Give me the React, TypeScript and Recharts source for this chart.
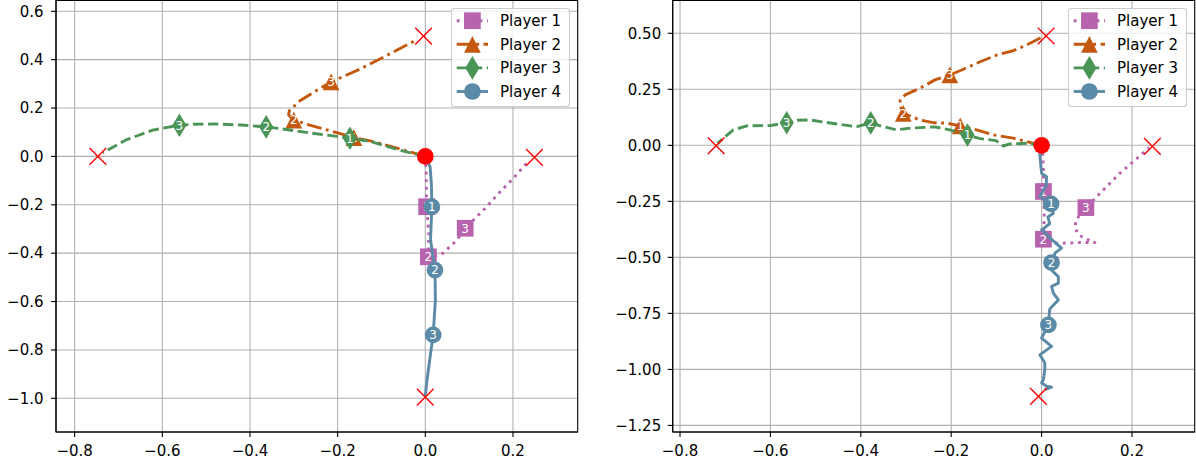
import React from 'react';
import { ComposedChart, Line, Scatter, XAxis, YAxis, CartesianGrid, Legend, ReferenceArea } from 'recharts';

// ---------- tick labels ----------
const xTicks = [-0.8, -0.6, -0.4, -0.2, 0, 0.2];
const yTicksLeft = [-1.0, -0.8, -0.6, -0.4, -0.2, 0, 0.2, 0.4, 0.6];
const yTicksRight = [-1.25, -1.0, -0.75, -0.5, -0.25, 0, 0.25, 0.5];

// ---------- series meta ----------
const playerNames = ['Player 1', 'Player 2', 'Player 3', 'Player 4'];
const playerColors = ['#b863ae', '#c4580f', '#4a9456', '#5a8aa6'];
const playerMarkers = ['square', 'triangle', 'diamond', 'circle'];
const playerDashes = ['2.9 4.7', '15 4.5 2.9 4.5', '10.5 4.5', undefined];

// ---------- left panel ----------
const leftP1Path = [
  { x: 0, y: 0 }, { x: 0.002, y: -0.07 }, { x: 0.003, y: -0.208 }, { x: 0.008, y: -0.318 },
  { x: 0.007, y: -0.415 }, { x: 0.037, y: -0.405 }, { x: 0.072, y: -0.346 }, { x: 0.091, y: -0.297 },
  { x: 0.14, y: -0.208 }, { x: 0.167, y: -0.153 }, { x: 0.2, y: -0.092 }, { x: 0.235, y: -0.02 },
];
const leftP1Marks = [
  { x: 0.003, y: -0.208, n: '1' }, { x: 0.007, y: -0.415, n: '2' }, { x: 0.091, y: -0.297, n: '3' },
];
const leftP2Path = [
  { x: 0, y: 0 }, { x: -0.06, y: 0.032 }, { x: -0.12, y: 0.062 }, { x: -0.163, y: 0.078 },
  { x: -0.22, y: 0.107 }, { x: -0.27, y: 0.133 }, { x: -0.3, y: 0.15 }, { x: -0.312, y: 0.172 },
  { x: -0.31, y: 0.19 }, { x: -0.303, y: 0.198 }, { x: -0.293, y: 0.222 }, { x: -0.255, y: 0.265 },
  { x: -0.215, y: 0.308 }, { x: -0.15, y: 0.36 }, { x: -0.08, y: 0.425 }, { x: -0.024, y: 0.478 },
];
const leftP2Marks = [
  { x: -0.163, y: 0.078, n: '1' }, { x: -0.3, y: 0.15, n: '2' }, { x: -0.215, y: 0.308, n: '3' },
];
const leftP3Path = [
  { x: 0, y: 0 }, { x: -0.058, y: 0.026 }, { x: -0.126, y: 0.062 }, { x: -0.172, y: 0.075 },
  { x: -0.202, y: 0.083 }, { x: -0.263, y: 0.097 }, { x: -0.332, y: 0.115 }, { x: -0.363, y: 0.122 },
  { x: -0.42, y: 0.13 }, { x: -0.48, y: 0.134 }, { x: -0.53, y: 0.133 }, { x: -0.561, y: 0.129 },
  { x: -0.622, y: 0.109 }, { x: -0.683, y: 0.068 }, { x: -0.736, y: 0.015 },
];
const leftP3Marks = [
  { x: -0.172, y: 0.075, n: '1' }, { x: -0.363, y: 0.122, n: '2' }, { x: -0.561, y: 0.129, n: '3' },
];
const leftP4Path = [
  { x: 0, y: 0 }, { x: 0.011, y: -0.043 }, { x: 0.014, y: -0.12 }, { x: 0.015, y: -0.208 },
  { x: 0.012, y: -0.346 }, { x: 0.022, y: -0.47 }, { x: 0.023, y: -0.593 }, { x: 0.018, y: -0.738 },
  { x: 0.011, y: -0.828 }, { x: 0.003, y: -0.938 }, { x: 0, y: -0.99 },
];
const leftP4Marks = [
  { x: 0.015, y: -0.208, n: '1' }, { x: 0.022, y: -0.47, n: '2' }, { x: 0.018, y: -0.738, n: '3' },
];
const leftGoals = [
  { x: -0.004, y: 0.497 }, { x: -0.747, y: 0.0 }, { x: 0.249, y: -0.004 }, { x: 0, y: -0.995 },
];

// ---------- right panel ----------
const rightP1Path = [
  { x: 0, y: 0 }, { x: 0.003, y: -0.05 }, { x: 0.004, y: -0.12 }, { x: 0.004, y: -0.206 },
  { x: 0.006, y: -0.3 }, { x: 0.004, y: -0.419 }, { x: 0.033, y: -0.437 }, { x: 0.06, y: -0.436 },
  { x: 0.085, y: -0.434 }, { x: 0.118, y: -0.434 }, { x: 0.1, y: -0.419 }, { x: 0.083, y: -0.401 },
  { x: 0.074, y: -0.371 }, { x: 0.076, y: -0.333 }, { x: 0.098, y: -0.278 }, { x: 0.122, y: -0.229 },
  { x: 0.144, y: -0.184 }, { x: 0.173, y: -0.125 }, { x: 0.203, y: -0.073 }, { x: 0.238, y: -0.01 },
];
const rightP1Marks = [
  { x: 0.004, y: -0.206, n: '1' }, { x: 0.004, y: -0.419, n: '2' }, { x: 0.098, y: -0.278, n: '3' },
];
const rightP2Path = [
  { x: 0, y: 0 }, { x: -0.033, y: 0.017 }, { x: -0.063, y: 0.032 }, { x: -0.107, y: 0.047 },
  { x: -0.144, y: 0.069 }, { x: -0.18, y: 0.087 }, { x: -0.21, y: 0.099 }, { x: -0.24, y: 0.101 },
  { x: -0.269, y: 0.113 }, { x: -0.306, y: 0.143 }, { x: -0.313, y: 0.175 }, { x: -0.313, y: 0.202 },
  { x: -0.302, y: 0.225 }, { x: -0.269, y: 0.255 }, { x: -0.236, y: 0.292 }, { x: -0.203, y: 0.314 },
  { x: -0.177, y: 0.336 }, { x: -0.136, y: 0.373 }, { x: -0.099, y: 0.403 }, { x: -0.063, y: 0.422 },
  { x: -0.033, y: 0.448 }, { x: -0.004, y: 0.478 }, { x: 0.008, y: 0.486 },
];
const rightP2Marks = [
  { x: -0.18, y: 0.087, n: '1' }, { x: -0.306, y: 0.143, n: '2' }, { x: -0.203, y: 0.314, n: '3' },
];
const rightP3Path = [
  { x: 0, y: 0 }, { x: -0.033, y: 0.009 }, { x: -0.07, y: 0.006 }, { x: -0.085, y: -0.003 },
  { x: -0.101, y: 0.021 }, { x: -0.136, y: 0.03 }, { x: -0.164, y: 0.046 }, { x: -0.203, y: 0.069 },
  { x: -0.236, y: 0.082 }, { x: -0.29, y: 0.077 }, { x: -0.321, y: 0.069 }, { x: -0.354, y: 0.085 },
  { x: -0.378, y: 0.1 }, { x: -0.409, y: 0.083 }, { x: -0.453, y: 0.095 }, { x: -0.512, y: 0.113 },
  { x: -0.54, y: 0.112 }, { x: -0.564, y: 0.101 }, { x: -0.6, y: 0.088 }, { x: -0.652, y: 0.087 },
  { x: -0.682, y: 0.069 }, { x: -0.704, y: 0.032 }, { x: -0.717, y: 0.009 },
];
const rightP3Marks = [
  { x: -0.164, y: 0.046, n: '1' }, { x: -0.378, y: 0.1, n: '2' }, { x: -0.564, y: 0.101, n: '3' },
];
const rightP4Path = [
  { x: 0, y: 0 }, { x: -0.004, y: -0.043 }, { x: 0, y: -0.125 }, { x: 0.011, y: -0.14 },
  { x: 0.01, y: -0.18 }, { x: -0.004, y: -0.229 }, { x: 0.021, y: -0.261 }, { x: 0.026, y: -0.303 },
  { x: 0.014, y: -0.32 }, { x: 0.018, y: -0.35 }, { x: 0, y: -0.377 }, { x: 0.022, y: -0.42 },
  { x: 0.044, y: -0.459 }, { x: 0.03, y: -0.48 }, { x: 0.022, y: -0.523 }, { x: 0.018, y: -0.55 },
  { x: 0.037, y: -0.586 }, { x: 0.037, y: -0.615 }, { x: 0.022, y: -0.63 }, { x: 0.026, y: -0.66 },
  { x: 0.037, y: -0.69 }, { x: 0.018, y: -0.73 }, { x: 0.015, y: -0.801 }, { x: 0, y: -0.86 },
  { x: 0.022, y: -0.897 }, { x: -0.004, y: -0.935 }, { x: 0.007, y: -0.97 }, { x: 0.007, y: -1.0 },
  { x: 0.004, y: -1.046 }, { x: 0, y: -1.06 }, { x: 0.011, y: -1.075 }, { x: 0.022, y: -1.079 },
  { x: 0.007, y: -1.09 },
];
const rightP4Marks = [
  { x: 0.021, y: -0.261, n: '1' }, { x: 0.022, y: -0.523, n: '2' }, { x: 0.015, y: -0.801, n: '3' },
];
const rightGoals = [
  { x: 0.01, y: 0.488 }, { x: -0.72, y: -0.002 }, { x: 0.245, y: -0.005 }, { x: -0.007, y: -1.12 },
];

const origin = [{ x: 0, y: 0 }];

const FONT = 'DejaVu Sans';
const FS = 15;
const MS = 16.7;
const LW = 2.9;

const fmt = (d: number) => (v: number) => {
  const s = Math.abs(v).toFixed(d);
  return v < -1e-9 ? '\u2212' + s : s;
};

function markerEl(kind: string, cx: number, cy: number, color: string) {
  const h = MS / 2;
  if (kind === 'square') return <rect x={cx - h} y={cy - h} width={MS} height={MS} fill={color} />;
  if (kind === 'triangle')
    return <polygon points={`${cx},${cy - h} ${cx - h},${cy + h} ${cx + h},${cy + h}`} fill={color} />;
  if (kind === 'diamond') {
    const hw = MS * 0.4243, hh = MS * 0.7071;
    return <polygon points={`${cx},${cy - hh} ${cx + hw},${cy} ${cx},${cy + hh} ${cx - hw},${cy}`} fill={color} />;
  }
  return <circle cx={cx} cy={cy} r={h} fill={color} />;
}

const makeShape = (i: number) => (props: any) => {
  const { cx, cy, payload } = props;
  return (
    <g>
      {markerEl(playerMarkers[i], cx, cy, playerColors[i])}
      <text x={cx} y={cy} dy="0.36em" textAnchor="middle" fill="#ffffff" fontSize={12} fontFamily={FONT}>
        {payload.n}
      </text>
    </g>
  );
};

const crossShape = (props: any) => {
  const { cx, cy } = props;
  const h = MS / 2;
  return (
    <g stroke="#ff0000" strokeWidth={1.4}>
      <line x1={cx - h} y1={cy - h} x2={cx + h} y2={cy + h} />
      <line x1={cx - h} y1={cy + h} x2={cx + h} y2={cy - h} />
    </g>
  );
};

const dotShape = (props: any) => <circle cx={props.cx} cy={props.cy} r={MS / 2} fill="#ff0000" />;

function LegendBox() {
  return (
    <svg width={120} height={100} style={{ display: 'block', overflow: 'visible' }}>
      <rect x={0.5} y={0.5} width={118} height={98} rx={3} fill="rgba(255,255,255,0.8)" stroke="#cccccc" strokeWidth={1.1} />
      {playerNames.map((name, i) => {
        const cy = 12.7 + i * 23.6;
        return (
          <g key={name}>
            <line x1={5.7} x2={37} y1={cy} y2={cy} stroke={playerColors[i]} strokeWidth={LW} strokeDasharray={playerDashes[i]} />
            {markerEl(playerMarkers[i], 21.4, cy, playerColors[i])}
            <text x={49} y={cy} dy="0.36em" fontSize={FS} fontFamily={FONT} fill="#000">
              {name}
            </text>
          </g>
        );
      })}
    </svg>
  );
}

type Panel = {
  width: number;
  left: number;
  right: number;
  xDomain: [number, number];
  yDomain: [number, number];
  yTicks: number[];
  yFmt: (v: number) => string;
  yMargin: number;
  paths: { x: number; y: number }[][];
  marks: { x: number; y: number; n: string }[][];
  goals: { x: number; y: number }[];
  legendLeft: number;
};

function PanelChart({ p }: { p: Panel }) {
  const tickStyle = { fill: '#000', fontSize: FS, fontFamily: FONT };
  return (
    <ComposedChart width={p.width} height={465} margin={{ top: 0.5, right: p.right, bottom: 0, left: 0 }}>
      <CartesianGrid stroke="#b0b0b0" strokeWidth={1.1} horizontalValues={p.yTicks} verticalValues={xTicks} />
      <XAxis
        type="number" dataKey="x" domain={p.xDomain} ticks={xTicks} allowDataOverflow interval={0}
        tickFormatter={fmt(1)} height={33} tickSize={5} tickMargin={8.5} stroke="#000" strokeWidth={1.1}
        tick={tickStyle}
      />
      <YAxis
        type="number" dataKey="y" domain={p.yDomain} ticks={p.yTicks} allowDataOverflow interval={0}
        tickFormatter={p.yFmt} width={p.left} tickSize={5} tickMargin={p.yMargin} stroke="#000" strokeWidth={1.1}
        tick={tickStyle}
      />
      {p.paths.map((path, i) => [
        <Line
          key={'l' + i} data={path} dataKey="y" type="linear" stroke={playerColors[i]} strokeWidth={LW}
          strokeDasharray={playerDashes[i]} strokeLinejoin="round" dot={false} activeDot={false}
          isAnimationActive={false} legendType="none" zIndex={401 + i * 2}
        />,
        <Scatter
          key={'s' + i} data={p.marks[i]} shape={makeShape(i)} isAnimationActive={false} legendType="none"
          zIndex={402 + i * 2}
        />,
      ])}
      <Scatter data={p.goals} shape={crossShape} isAnimationActive={false} legendType="none" zIndex={450} />
      <Scatter data={origin} shape={dotShape} isAnimationActive={false} legendType="none" zIndex={451} />
      <ReferenceArea
        x1={p.xDomain[0]} x2={p.xDomain[1]} y1={p.yDomain[0]} y2={p.yDomain[1]}
        fill="none" fillOpacity={0} stroke="#000" strokeWidth={1.1} ifOverflow="visible" zIndex={460}
      />
      <Legend
        layout="vertical" align="center" verticalAlign="middle" content={() => <LegendBox />}
        wrapperStyle={{ top: 8, left: p.legendLeft, width: 120, height: 100, margin: 0, padding: 0 }}
      />
    </ComposedChart>
  );
}

const leftPanel: Panel = {
  width: 600,
  left: 56,
  right: 22.3,
  xDomain: [-0.8426, 0.3477],
  yDomain: [-1.1393, 0.6446],
  yTicks: yTicksLeft,
  yFmt: fmt(1),
  yMargin: 7.5,
  paths: [leftP1Path, leftP2Path, leftP3Path, leftP4Path],
  marks: [leftP1Marks, leftP2Marks, leftP3Marks, leftP4Marks],
  goals: leftGoals,
  legendLeft: 450.6,
};

const rightPanel: Panel = {
  width: 596,
  left: 72.7,
  right: 1.3,
  xDomain: [-0.8162, 0.3387],
  yDomain: [-1.2794, 0.6463],
  yTicks: yTicksRight,
  yFmt: fmt(2),
  yMargin: 6.5,
  paths: [rightP1Path, rightP2Path, rightP3Path, rightP4Path],
  marks: [rightP1Marks, rightP2Marks, rightP3Marks, rightP4Marks],
  goals: rightGoals,
  legendLeft: 468.3,
};

export default function App() {
  return (
    <div style={{ position: 'absolute', left: 0, top: 0, width: 1196, height: 465, background: '#fff' }}>
      <div style={{ position: 'absolute', left: 0, top: 0 }}>
        <PanelChart p={leftPanel} />
      </div>
      <div style={{ position: 'absolute', left: 600, top: 0 }}>
        <PanelChart p={rightPanel} />
      </div>
    </div>
  );
}
